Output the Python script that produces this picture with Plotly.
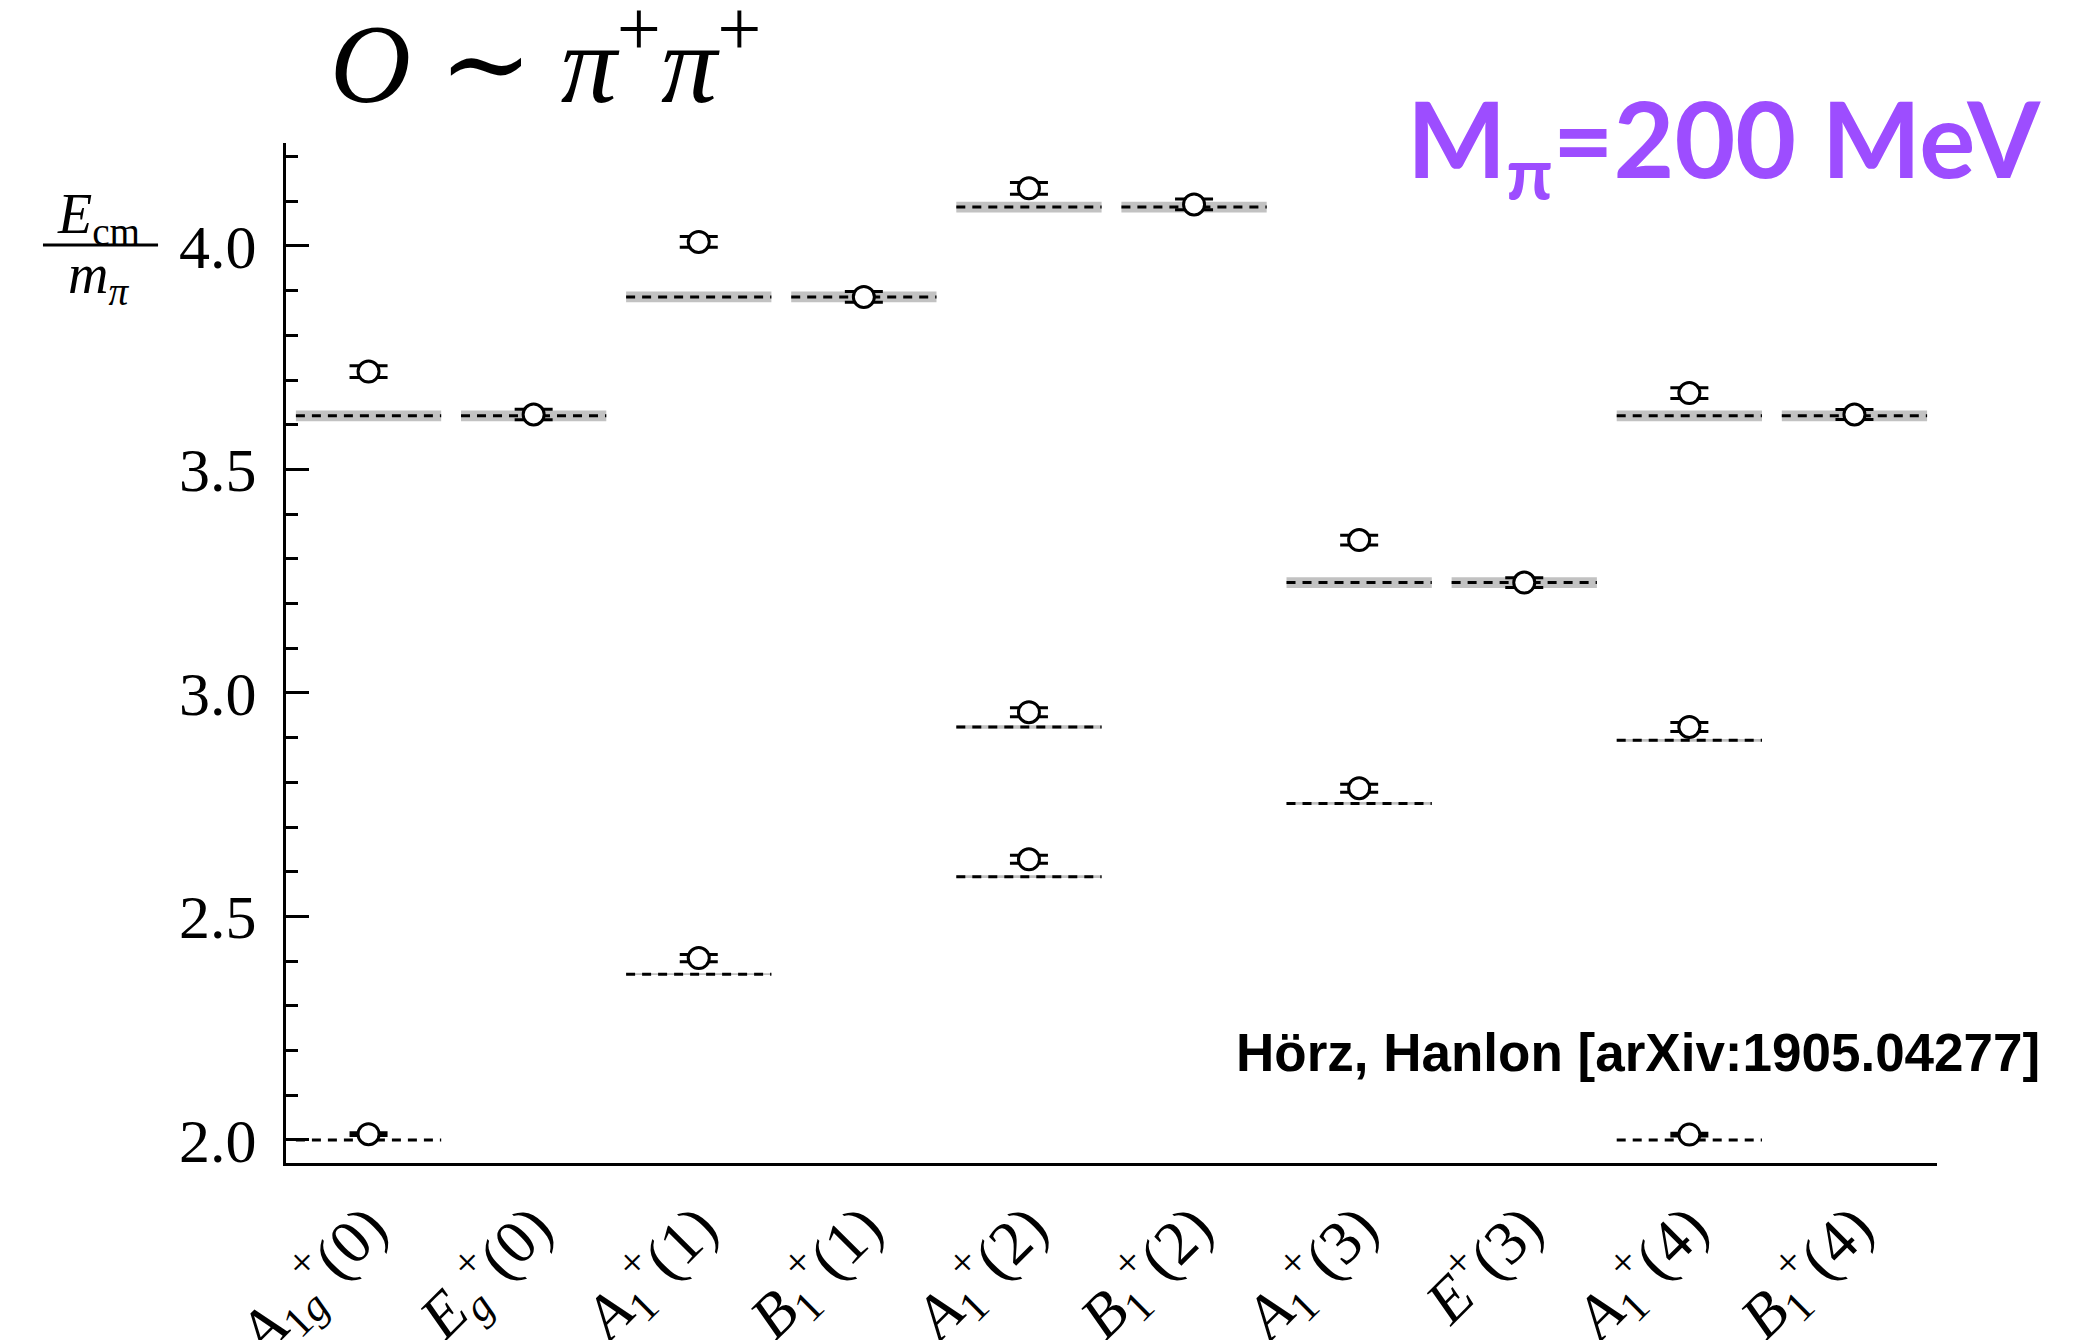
import plotly.graph_objects as go

# Irreps (total momentum d^2 in parentheses)
irreps = [
    "<i>A</i><sub>1<i>g</i></sub><sup>+</sup>(0)",
    "<i>E</i><sub><i>g</i></sub><sup>+</sup>(0)",
    "<i>A</i><sub>1</sub><sup>+</sup>(1)",
    "<i>B</i><sub>1</sub><sup>+</sup>(1)",
    "<i>A</i><sub>1</sub><sup>+</sup>(2)",
    "<i>B</i><sub>1</sub><sup>+</sup>(2)",
    "<i>A</i><sub>1</sub><sup>+</sup>(3)",
    "<i>E</i><sup>+</sup>(3)",
    "<i>A</i><sub>1</sub><sup>+</sup>(4)",
    "<i>B</i><sub>1</sub><sup>+</sup>(4)",
]

# Non-interacting pi+pi+ levels per irrep, with their uncertainty bands
free_levels = [
    [2.000, 3.620],
    [3.620],
    [2.371, 3.886],
    [3.886],
    [2.589, 2.924, 4.087],
    [4.087],
    [2.753, 3.247],
    [3.247],
    [2.000, 2.894, 3.620],
    [3.620],
]
free_band = [
    [0.000, 0.012],
    [0.012],
    [0.002, 0.012],
    [0.012],
    [0.003, 0.004, 0.012],
    [0.012],
    [0.003, 0.012],
    [0.012],
    [0.000, 0.003, 0.012],
    [0.012],
]

# Lattice energies E_cm / m_pi and their errors
energies = [
    [2.013, 3.719],
    [3.623],
    [2.407, 4.009],
    [3.886],
    [2.628, 2.957, 4.129],
    [4.093],
    [2.787, 3.342],
    [3.247],
    [2.012, 2.924, 3.671],
    [3.623],
]
energy_err = [
    [0.003, 0.013],
    [0.012],
    [0.008, 0.012],
    [0.012],
    [0.009, 0.010, 0.013],
    [0.012],
    [0.009, 0.011],
    [0.011],
    [0.003, 0.010, 0.012],
    [0.011],
]

y_ticks = [2.0, 2.5, 3.0, 3.5, 4.0]
half_w = 0.44

SERIF = "Liberation Serif, DejaVu Serif, serif"

band_x, band_y = [], []
line_x, line_y = [], []
for i, (lev, bnd) in enumerate(zip(free_levels, free_band)):
    for e, b in zip(lev, bnd):
        line_x += [i - half_w, i + half_w, None]
        line_y += [e, e, None]
        if b > 0:
            band_x += [i - half_w, i + half_w, i + half_w, i - half_w, i - half_w, None]
            band_y += [e - b, e - b, e + b, e + b, e - b, None]

pt_x, pt_y, pt_err = [], [], []
for i, (en, er) in enumerate(zip(energies, energy_err)):
    for e, s in zip(en, er):
        pt_x.append(i)
        pt_y.append(e)
        pt_err.append(s)

fig = go.Figure()
fig.add_trace(go.Scatter(
    x=band_x, y=band_y, mode="lines", fill="toself",
    fillcolor="#c2c2c2", line=dict(width=0), hoverinfo="skip", showlegend=False,
))
fig.add_trace(go.Scatter(
    x=line_x, y=line_y, mode="lines",
    line=dict(color="black", width=3, dash="9px,7px"),
    hoverinfo="skip", showlegend=False,
))
fig.add_trace(go.Scatter(
    x=pt_x, y=pt_y, mode="markers",
    marker=dict(symbol="circle", size=21, color="white",
                line=dict(color="black", width=3)),
    error_y=dict(type="data", array=pt_err, visible=True,
                 color="black", thickness=3, width=19),
    showlegend=False,
))

fig.update_layout(
    width=2100, height=1340,
    margin=dict(l=286, r=163, t=143, b=177),
    paper_bgcolor="white", plot_bgcolor="white",
    font=dict(family=SERIF, color="black"),
    xaxis=dict(
        range=[-0.5, 9.5], tickvals=list(range(len(irreps))), ticktext=irreps,
        tickangle=-45, tickfont=dict(family=SERIF, size=62),
        showline=True, linecolor="black", linewidth=3,
        showgrid=False, zeroline=False, ticks="", ticklen=0, automargin=False,
    ),
    yaxis=dict(
        range=[1.9485, 4.2304], tickvals=y_ticks,
        ticktext=[f"{v:.1f}" for v in y_ticks],
        tickfont=dict(family=SERIF, size=62),
        ticks="inside", ticklen=23, tickwidth=3, tickcolor="black",
        ticklabelstandoff=14,
        minor=dict(ticks="inside", ticklen=12, tickwidth=3, tickcolor="black", dtick=0.1, tick0=2.0),
        showline=True, linecolor="black", linewidth=3,
        showgrid=False, zeroline=False, automargin=False,
    ),
)

# Title: operator content
fig.add_annotation(
    xref="paper", yref="paper", x=0.0254, y=1.086, xanchor="left", yanchor="middle",
    text="<i>O</i> ∼ <i>π</i><sup>+</sup><i>π</i><sup>+</sup>",
    showarrow=False, font=dict(family=SERIF, size=112, color="black"),
)

# Axis label written as a fraction E_cm / m_pi
fig.add_annotation(
    xref="paper", yref="paper", x=-0.1133, y=0.9265, xanchor="center", yanchor="middle",
    text="<i>E</i><sub>cm</sub>", showarrow=False,
    font=dict(family=SERIF, size=56, color="black"),
)
fig.add_shape(
    type="line", xref="paper", yref="paper",
    x0=-0.1472, x1=-0.0775, y0=0.9, y1=0.9,
    line=dict(color="black", width=3),
)
fig.add_annotation(
    xref="paper", yref="paper", x=-0.1133, y=0.8676, xanchor="center", yanchor="middle",
    text="<i>m</i><sub><i>π</i></sub>", showarrow=False,
    font=dict(family=SERIF, size=56, color="black"),
)

# Pion mass tag
fig.add_annotation(
    xref="paper", yref="paper", x=0.871, y=0.998, xanchor="center", yanchor="middle",
    text="<b>M<sub>π</sub>=200 MeV</b>", showarrow=False,
    font=dict(family="Lato, Noto Sans, sans-serif", size=105, color="#9d4dff"),
)

# Reference
fig.add_annotation(
    xref="paper", yref="paper", x=1.0636, y=0.108, xanchor="right", yanchor="middle",
    text="<b>Hörz, Hanlon [arXiv:1905.04277]</b>", showarrow=False,
    font=dict(family="Liberation Sans Narrow, Arial Narrow, Liberation Sans, sans-serif",
              size=53, color="black"),
)

fig.write_html("out.html")
